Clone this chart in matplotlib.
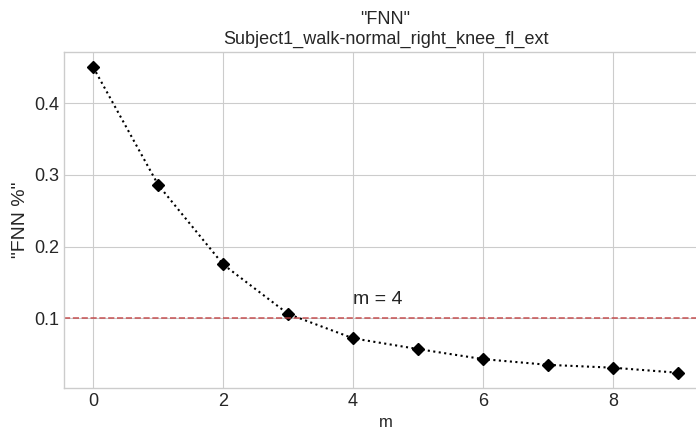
import matplotlib
matplotlib.use("Agg")
import matplotlib.pyplot as plt

# Data
m_values = [0, 1, 2, 3, 4, 5, 6, 7, 8, 9]
fnn_values = [0.450, 0.286, 0.175, 0.106, 0.072, 0.057, 0.043, 0.035, 0.031, 0.024]
threshold = 0.1
chosen_m = 4
title_lines = ['"FNN"', "Subject1_walk-normal_right_knee_fl_ext"]

plt.style.use("seaborn-v0_8-whitegrid")
plt.rcParams["font.family"] = ["Liberation Sans", "DejaVu Sans"]

fig = plt.figure(figsize=(6.96, 4.34), dpi=100)
ax = fig.add_axes([0.092, 0.106, 0.924, 0.774])

# Figure information and settings
ax.plot(m_values, fnn_values, "k:", marker="D", markersize=6, linewidth=1.5)
ax.axhline(threshold, color="#c0393b", linestyle="--", linewidth=1.2, alpha=0.8)
ax.text(chosen_m, threshold + 0.02, f"m = {chosen_m}", fontsize=14)

ax.set_xticks([0, 2, 4, 6, 8])
ax.set_yticks([0.1, 0.2, 0.3, 0.4])
ax.tick_params(labelsize=13)
ax.set_xlabel("m", fontsize=12)
ax.set_ylabel('"FNN %"', fontsize=14)
ax.set_title("\n".join(title_lines), fontsize=13)

for spine in ax.spines.values():
    spine.set_visible(True)
    spine.set_color("#cccccc")

fig.savefig("out.png", dpi=100)
